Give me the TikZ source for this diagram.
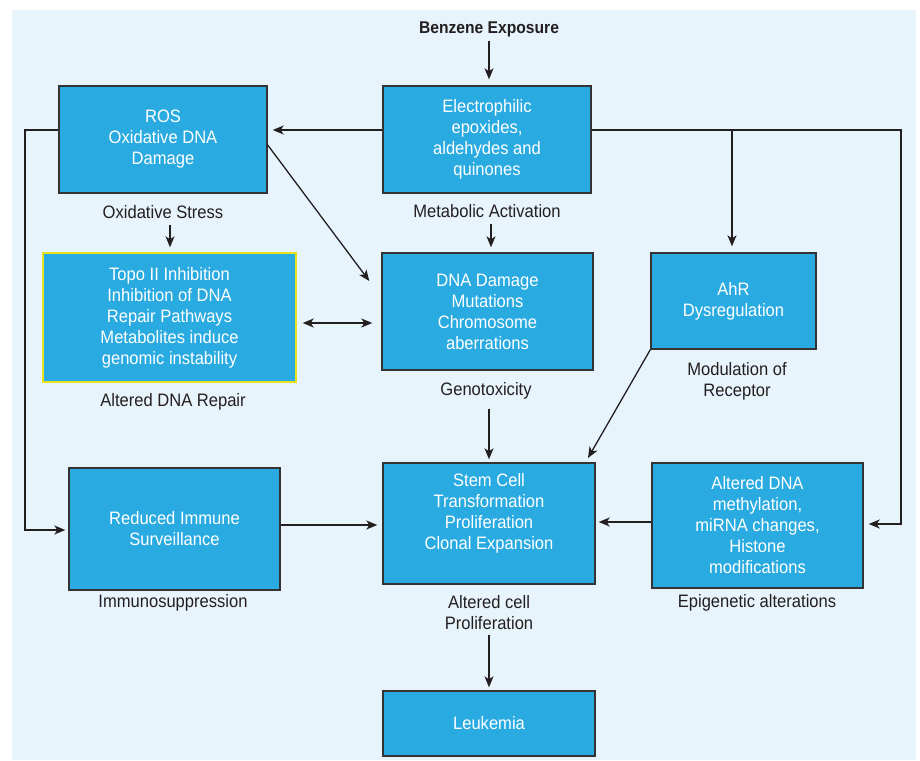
\documentclass[tikz,border=0pt]{standalone}
\usepackage{fontspec}
\setmainfont{Liberation Sans}[FakeStretch=0.92]
\usetikzlibrary{arrows.meta,calc}
\definecolor{bg}{HTML}{E8F4FB}
\definecolor{boxc}{HTML}{29AAE1}
\definecolor{edgec}{HTML}{333333}
\definecolor{ink}{HTML}{231F20}
\definecolor{ylw}{HTML}{E6E31E}
\begin{document}
\begin{tikzpicture}[x=1pt,y=-1pt,
  box/.style={draw=edgec,line width=1.4pt,fill=boxc,text=white,align=center,inner sep=0pt,font=\fontsize{18}{21}\selectfont},
  lbl/.style={text=ink,align=center,inner sep=0pt,font=\fontsize{18}{21}\selectfont},
  arr/.style={draw=ink,line width=1.3pt},
  >={Stealth[length=11pt,width=9pt,inset=3pt]}
]
\useasboundingbox (0,0) rectangle (920,760);
\fill[white] (0,0) rectangle (920,760);
\fill[bg] (12,10) rectangle (916,760);

% boxes
\node[box,minimum width=208pt,minimum height=107pt] (ros) at (163,139.5) {ROS\\Oxidative DNA\\Damage};
\node[box,minimum width=208pt,minimum height=107pt] (elec) at (487,139.5) {Electrophilic\\epoxides,\\aldehydes and\\quinones};
\node[box,draw=ylw,minimum width=253pt,minimum height=129pt] (topo) at (169.5,317.5) {Topo II Inhibition\\Inhibition of DNA\\Repair Pathways\\Metabolites induce\\genomic instability};
\node[box,minimum width=211pt,minimum height=117pt] (dna) at (487.5,311.5) {DNA Damage\\Mutations\\Chromosome\\aberrations};
\node[box,minimum width=165pt,minimum height=96pt] (ahr) at (733.5,301) {AhR\\Dysregulation};
\node[box,minimum width=211pt,minimum height=122pt] (imm) at (174.5,529) {Reduced Immune\\Surveillance};
\node[box,minimum width=212pt,minimum height=121pt] (stem) at (489,523.5) {Stem Cell\\Transformation\\Proliferation\\Clonal Expansion\\[4pt]};
\node[box,minimum width=211pt,minimum height=125pt] (epi) at (757.5,525.5) {Altered DNA\\methylation,\\miRNA changes,\\Histone\\modifications};
\node[box,minimum width=212pt,minimum height=65pt] (leuk) at (489,723.5) {Leukemia};

% labels
\node[lbl,font=\bfseries\fontsize{17}{21}\selectfont] (benz) at (489,29) {Benzene Exposure};
\node[lbl] (oxs) at (163,212) {Oxidative Stress};
\node[lbl] (meta) at (487,211) {Metabolic Activation};
\node[lbl] (adr) at (173,402) {Altered DNA Repair};
\node[lbl] (geno) at (486,391) {Genotoxicity};
\node[lbl] (mod) at (737,381) {Modulation of\\Receptor};
\node[lbl] (immsup) at (173,603) {Immunosuppression};
\node[lbl] (acp) at (489,613) {Altered cell\\Proliferation};
\node[lbl] (epialt) at (757,603) {Epigenetic alterations};

% connectors
\draw[arr,->,shorten >=6pt] (benz.south |- 0,41) -- (benz.south |- elec.north);
\draw[arr,->,shorten >=5pt] (elec.west |- 0,130) -- (ros.east |- 0,130);
\draw[arr,->,shorten >=5pt] (elec.east |- 0,130) -| (901,524) -- (epi.east |- 0,524);
\draw[arr,->,shorten >=6pt] (732,130) -- (ahr.north -| 732,0);
\draw[arr,->,shorten >=5pt] (meta.south -| 491,0) ++(0,6) -- (dna.north -| 491,0);
\draw[arr,->,shorten >=5pt] (oxs.south -| 170,0) ++(0,6) -- (topo.north -| 170,0);
\draw[arr,->] (ros.east |- 0,145) -- ($(dna.west |- 0,281)+(-12,0)$);
\draw[arr,<->] ($(topo.east |- 0,323)+(6,0)$) -- ($(dna.west |- 0,323)+(-9,0)$);
\draw[arr,->,shorten >=3pt] (geno.south -| 489,0) ++(0,9) -- (stem.north -| 489,0);
\draw[arr,->] (ahr.south west) -- (588,458);
\draw[arr,->,shorten >=3pt] (ros.west |- 0,130) -| (25,530) -- (imm.west |- 0,530);
\draw[arr,->,shorten >=5pt] (imm.east |- 0,525) -- (stem.west |- 0,525);
\draw[arr,->,shorten >=3pt] (epi.west |- 0,522) -- (stem.east |- 0,522);
\draw[arr,->,shorten >=3pt] (acp.south -| 489,0) ++(0,5) -- (leuk.north -| 489,0);
\end{tikzpicture}
\end{document}
